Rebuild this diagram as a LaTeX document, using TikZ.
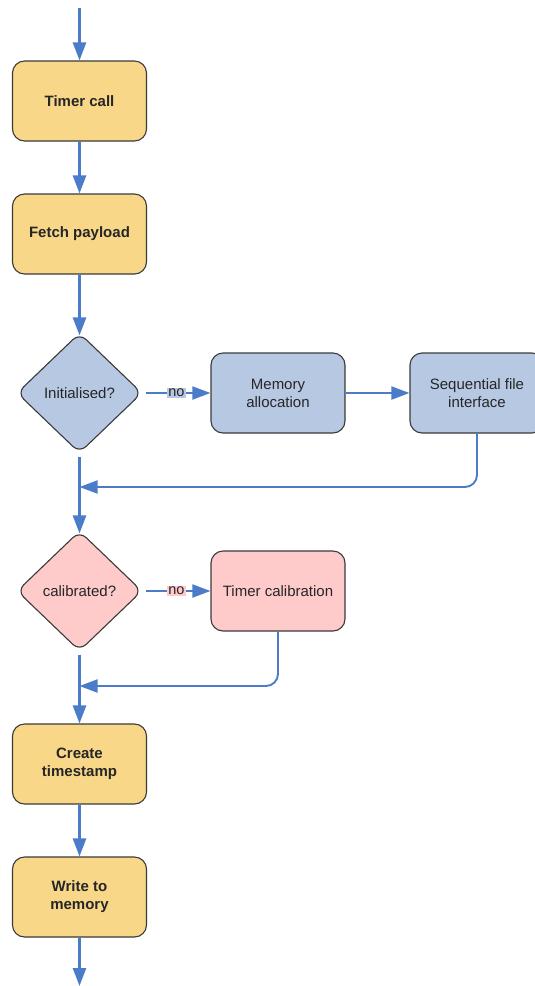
\documentclass[tikz,border=0pt]{standalone}
\usepackage{fontspec}
\setmainfont{Liberation Sans}
\usetikzlibrary{shapes.geometric,arrows.meta,positioning}
\definecolor{flowblue}{HTML}{4A7CC9}
\definecolor{boxyellow}{HTML}{F8D888}
\definecolor{boxblue}{HTML}{B7C8E3}
\definecolor{boxpink}{HTML}{FFCACA}
\definecolor{boxedge}{HTML}{3A3A3A}

\begin{document}
\begin{tikzpicture}[x=1pt,y=-1pt,on grid,
  font=\fontsize{15}{18}\selectfont,
  box/.style={draw=boxedge,line width=1.1pt,rounded corners=12pt,
    minimum width=134pt,minimum height=80pt,align=center,text=black!85},
  task/.style={box,fill=boxyellow,font=\fontsize{15}{18}\selectfont\bfseries},
  subtask/.style={box,fill=boxblue},
  calibtask/.style={box,fill=boxpink},
  decision/.style={diamond,draw=boxedge,line width=1.1pt,rounded corners=9pt,
    minimum width=125pt,minimum height=120pt,inner sep=0pt,text=black!85},
  flow/.style={draw=flowblue,line width=2.6pt,-{Triangle[length=18pt,width=13pt]}},
  thin/.style={flow,line width=1.9pt},
  back/.style={thin,rounded corners=12pt},
  nolabel/.style={inner sep=1pt,font=\fontsize{14.5}{16}\selectfont,text=black!85}]
\clip (0,0) rectangle (535,986);

\node[task] (timer) at (79.5,101) {Timer call};
\node[task] (fetch) [below=133pt of timer] {Fetch payload};
\node[decision,fill=boxblue] (init) [below=159pt of fetch] {Initialised?};
\node[subtask] (mem) [right=198.5pt of init] {Memory\\allocation};
\node[subtask] (seq) [right=199pt of mem] {Sequential file\\interface};
\node[decision,fill=boxpink] (cal) [below=198pt of init] {calibrated?};
\node[calibtask] (calib) [right=198.5pt of cal] {Timer calibration};
\node[task] (stamp) [below=173pt of cal] {Create\\timestamp};
\node[task] (write) [below=133pt of stamp] {Write to\\memory};

\coordinate (start) at (79.5,8);
\coordinate (end) at (79.5,986);
\coordinate[below=94pt of init] (merge1);
\coordinate[below=95pt of cal] (merge2);

\path
  (start) edge[flow] (timer)
  (timer) edge[flow] (fetch)
  (fetch) edge[flow,shorten >=-3pt] (init)
  (init) edge[thin,shorten <=3pt] node[nolabel,fill=boxblue] {no} (mem)
  (mem) edge[thin] (seq)
  (init) edge[flow,shorten <=3pt,shorten >=-3pt] (cal)
  (cal) edge[thin,shorten <=3pt] node[nolabel,fill=boxpink] {no} (calib)
  (cal) edge[flow,shorten <=3pt] (stamp)
  (stamp) edge[flow] (write)
  (write) edge[flow] (end);
\draw[back] (seq.south) |- (merge1);
\draw[back] (calib.south) |- (merge2);
\end{tikzpicture}
\end{document}
